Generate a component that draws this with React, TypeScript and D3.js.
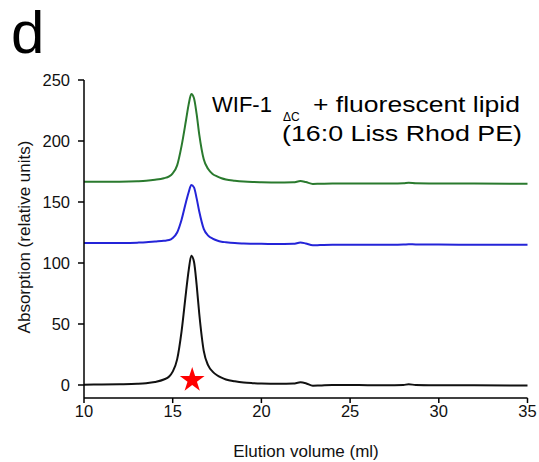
import React from "react";
import * as d3 from "d3";

const volumes = [10, 11, 12, 13, 13.5, 14, 14.5, 14.8, 15, 15.25, 15.5, 15.75, 15.9, 16.05, 16.2, 16.35, 16.5, 16.75, 17, 17.25, 17.5, 17.75, 18, 18.5, 19, 19.5, 20, 21, 21.8, 22.2, 22.5, 22.9, 23.3, 24, 25, 26, 27, 28, 28.3, 28.7, 30, 32, 35];

const blackSeries = [0.3, 0.4, 0.6, 1, 1.5, 2.5, 4.5, 7, 11, 21, 44, 76, 94, 106, 101, 82, 58, 28, 16, 11, 8, 6, 4.5, 3, 2, 1.5, 1.2, 1, 1.2, 2.2, 1.5, -0.6, -0.4, 0, 0, -0.2, -0.2, 0, 0.6, 0, -0.2, -0.3, -0.4];

const blueSeries = [116.3, 116.3, 116.4, 116.7, 117, 117.6, 118.2, 118.8, 120.5, 125, 135.5, 150, 158, 164, 162, 153, 142, 128, 122.5, 120, 118.5, 117.5, 117, 116.3, 116, 115.8, 115.7, 115.6, 115.7, 116.8, 116, 114.5, 114.7, 115, 115, 115, 115, 115.1, 115.4, 115.2, 115.1, 115, 115];

const greenSeries = [166.5, 166.5, 166.6, 167, 167.4, 168.2, 169.5, 171, 173.5, 180, 196, 217, 230, 238.5, 235, 222, 205, 185, 177, 173, 171, 169.5, 168.5, 167.5, 166.8, 166.4, 166.2, 166, 166.1, 167.2, 166.4, 164.8, 165, 165.2, 165.2, 165.2, 165.2, 165.3, 165.7, 165.4, 165.2, 165.1, 165];

const xTicks = [10, 15, 20, 25, 30, 35];
const yTicks = [0, 50, 100, 150, 200, 250];

const starVolume = 16.1;
const starValue = 4;

const FONT = "Arial, 'Liberation Sans', Helvetica, sans-serif";

export default function App() {
  const W = 539;
  const H = 462;
  const x = d3.scaleLinear().domain([10, 35]).range([84, 527.5]);
  const y = d3.scaleLinear().domain([0, 250]).range([385, 80]);
  const yMin = -10.7;
  const axisY = y(yMin);

  const line = d3
    .line<number>()
    .x((_, i) => x(volumes[i]))
    .y((v) => y(v))
    .curve(d3.curveMonotoneX);

  const series = [
    { values: greenSeries, color: "#2a7a2e" },
    { values: blueSeries, color: "#2424d8" },
    { values: blackSeries, color: "#111111" },
  ];

  const star = d3.symbol().type(d3.symbolStar).size(190)();

  return (
    <svg
      width={W}
      height={H}
      style={{ position: "absolute", left: 0, top: 0, background: "#fff" }}
      fontFamily={FONT}
    >
      <rect x={0} y={0} width={W} height={H} fill="#fff" />
      <text x={11} y={53} fontSize={60} fill="#000">d</text>

      {series.map((s, i) => (
        <path key={i} d={line(s.values) || ""} fill="none" stroke={s.color} strokeWidth={2} />
      ))}

      <path d={star || ""} transform={`translate(${x(starVolume)},${y(starValue)})`} fill="#ff0000" />

      {/* y axis */}
      <line x1={x(10)} x2={x(10)} y1={y(250)} y2={axisY} stroke="#000" strokeWidth={1.5} />
      {yTicks.map((t) => (
        <g key={t}>
          <line x1={x(10) - 6} x2={x(10)} y1={y(t)} y2={y(t)} stroke="#000" strokeWidth={1.5} />
          <text x={70} y={y(t)} dy="0.35em" textAnchor="end" fontSize={16.5} fill="#111">
            {t}
          </text>
        </g>
      ))}

      {/* x axis */}
      <line x1={x(10)} x2={x(35)} y1={axisY} y2={axisY} stroke="#000" strokeWidth={1.5} />
      {xTicks.map((t) => (
        <g key={t}>
          <line x1={x(t)} x2={x(t)} y1={axisY} y2={axisY + 5} stroke="#000" strokeWidth={1.5} />
          <text x={x(t)} y={417} textAnchor="middle" fontSize={16.5} fill="#111">
            {t}
          </text>
        </g>
      ))}

      <text x={306} y={457} textAnchor="middle" fontSize={17} fill="#111">
        Elution volume (ml)
      </text>
      <text
        transform={`translate(30,237) rotate(-90)`}
        textAnchor="middle"
        fontSize={17}
        fill="#111"
      >
        Absorption (relative units)
      </text>

      {/* annotation */}
      <text x={212} y={112} fontSize={22} fill="#000">WIF-1</text>
      <text x={283} y={121} fontSize={12} fill="#000">ΔC</text>
      <text x={313} y={112} fontSize={22} fill="#000" textLength={207} lengthAdjust="spacingAndGlyphs">
        + fluorescent lipid
      </text>
      <text x={282} y={141} fontSize={22} fill="#000" textLength={240} lengthAdjust="spacingAndGlyphs">
        (16:0 Liss Rhod PE)
      </text>
    </svg>
  );
}
